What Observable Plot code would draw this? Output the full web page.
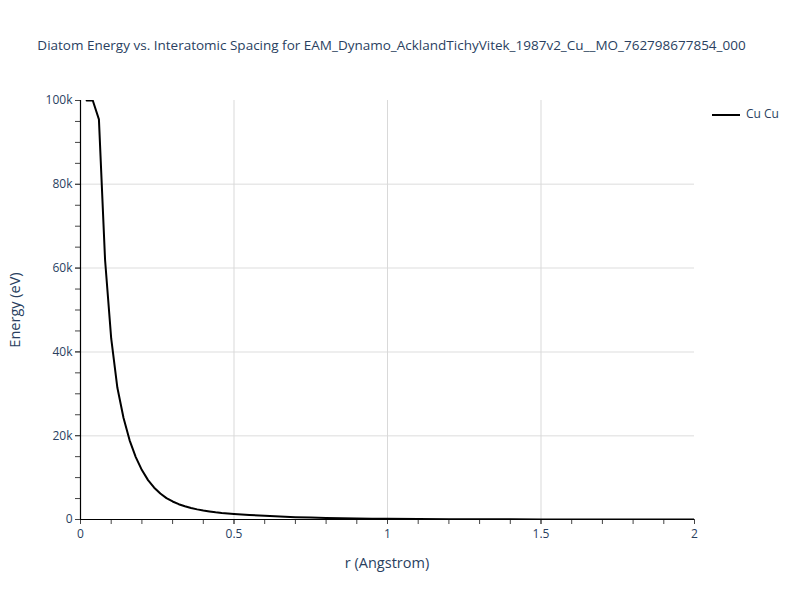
<!DOCTYPE html>
<html>
<head>
<meta charset="utf-8">
<script src="https://cdn.jsdelivr.net/npm/d3@7"></script>
<script src="https://cdn.jsdelivr.net/npm/@observablehq/plot@0.6"></script>
<style>
  body { margin: 0; background: #fff; }
  #wrap { position: relative; width: 800px; height: 600px; font-family: "Open Sans", sans-serif; color: #2a3f5f; }
  #wrap svg { position: absolute; left: 0; top: 0; }
  .lbl { position: absolute; white-space: nowrap; }
</style>
</head>
<body>
<div id="wrap">
  <div class="lbl" id="title" style="left:0;width:783px;text-align:center;top:36px;font-size:13.5px;">Diatom Energy vs. Interatomic Spacing for EAM_Dynamo_AcklandTichyVitek_1987v2_Cu__MO_762798677854_000</div>
  <div class="lbl" id="xlabel" style="left:80px;width:614px;text-align:center;top:553px;font-size:14.5px;">r (Angstrom)</div>
  <div class="lbl" id="ylabel" style="left:14px;top:310px;font-size:14.5px;transform:translate(-50%,-50%) rotate(-90deg);">Energy (eV)</div>
  <div class="lbl" id="legend" style="left:712px;top:105px;font-size:12px;">
    <span style="display:inline-block;width:28px;height:2px;background:#000;vertical-align:middle;margin-right:6px;"></span>Cu Cu
  </div>
</div>
<script>
const seriesName = "Cu Cu";
const r = [0.02,0.04,0.06,0.08,0.10,0.12,0.14,0.16,0.18,0.20,0.22,0.24,0.26,0.28,0.30,0.32,0.34,0.36,0.38,0.40,0.42,0.44,0.46,0.48,0.50,0.55,0.60,0.65,0.70,0.75,0.80,0.85,0.90,0.95,1.00,1.10,1.20,1.30,1.40,1.50,1.60,1.70,1.80,1.90,2.00];
const energy = [100000,100000,95500,62000,43200,31500,24300,18900,14900,11800,9400,7600,6200,5100,4300,3650,3150,2750,2420,2150,1920,1720,1560,1440,1340,1080,880,700,560,450,360,290,230,185,150,100,70,50,35,25,18,13,9,6,4];
const xTicks = [0, 0.5, 1, 1.5, 2];
const xMinorTicks = d3.range(0, 21).map(i => i / 10);
const yTicks = [0, 20000, 40000, 60000, 80000, 100000];
const yMinorTicks = d3.range(0, 21).map(i => i * 5000);
const xGrid = [0.5, 1, 1.5];
const yGrid = [20000, 40000, 60000, 80000];

const data = r.map((v, i) => ({r: v, e: energy[i], s: seriesName}));
const fmtY = d => d === 0 ? "0" : (d / 1000) + "k";

const chart = Plot.plot({
  width: 800,
  height: 600,
  marginLeft: 80,
  marginRight: 106,
  marginTop: 100,
  marginBottom: 81,
  style: {fontFamily: "Open Sans, sans-serif", fontSize: "12px", color: "#2a3f5f", background: "transparent"},
  x: {domain: [0, 2]},
  y: {domain: [0, 100000]},
  marks: [
    Plot.gridY(yGrid, {stroke: "#e8e8e8", strokeOpacity: 1, strokeWidth: 1.5}),
    Plot.gridX(xGrid, {stroke: "#d9d9d9", strokeOpacity: 1, strokeWidth: 1}),
    Plot.axisX(xMinorTicks, {tickSize: 5, stroke: "#444", text: null, label: null}),
    Plot.axisX(xTicks, {tickSize: 5, tickPadding: 5, stroke: "#444", fill: "#2a3f5f", tickFormat: d => String(d), label: null}),
    Plot.axisY(yMinorTicks, {tickSize: 5, stroke: "#444", text: null, label: null}),
    Plot.axisY(yTicks, {tickSize: 5, tickPadding: 3, stroke: "#444", fill: "#2a3f5f", tickFormat: fmtY, label: null}),
    Plot.ruleX([0], {stroke: "#000", strokeWidth: 1.2}),
    Plot.ruleY([0], {stroke: "#000", strokeWidth: 1.2}),
    Plot.line(data, {x: "r", y: "e", stroke: "#000", strokeWidth: 2, clip: true})
  ]
});
document.getElementById("wrap").appendChild(chart);
</script>
</body>
</html>
